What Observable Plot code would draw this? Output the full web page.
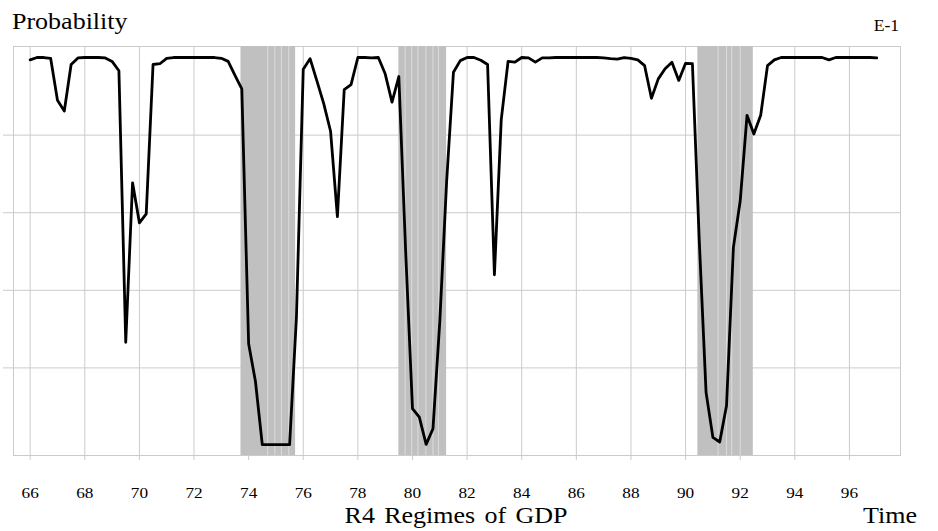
<!DOCTYPE html>
<html><head><meta charset="utf-8">
<script src="https://cdn.jsdelivr.net/npm/d3@7"></script>
<script src="https://cdn.jsdelivr.net/npm/@observablehq/plot@0.6"></script>
<style>
body{margin:0;background:#fff;}
#wrap{position:relative;width:938px;height:531px;overflow:hidden;font-family:"Liberation Serif","Times New Roman",serif;color:#000;}
#wrap svg{position:absolute;left:0;top:0;}
.lbl{position:absolute;white-space:nowrap;line-height:1;}
</style></head><body><div id="wrap"></div>
<script>
// Quarterly regime probability, starting 1966Q1 (x = 66.00), step = one quarter
const startYear = 66;
const probability = [
  0.994, 1.0, 1.0, 0.998, 0.89, 0.862, 0.982, 0.999,
  1.0, 1.0, 1.0, 0.999, 0.99, 0.966, 0.266, 0.677,
  0.574, 0.597, 0.982, 0.984, 0.998, 1.0, 1.0, 1.0,
  1.0, 1.0, 1.0, 1.0, 0.998, 0.99, 0.954, 0.919,
  0.262, 0.165, 0.002, 0.002, 0.002, 0.002, 0.002, 0.33,
  0.97, 0.997, 0.94, 0.881, 0.81, 0.59, 0.917, 0.93,
  1.0, 1.0, 0.999, 1.0, 0.958, 0.885, 0.951, 0.5,
  0.095, 0.073, 0.003, 0.043, 0.32, 0.68, 0.962, 0.992,
  1.0, 1.0, 0.993, 0.982, 0.44, 0.84, 0.99, 0.988,
  1.0, 0.999, 0.988, 0.999, 0.999, 1.0, 1.0, 1.0,
  1.0, 1.0, 1.0, 1.0, 0.999, 0.997, 0.996, 1.0,
  0.998, 0.994, 0.979, 0.895, 0.945, 0.971, 0.988, 0.941,
  0.985, 0.984, 0.53, 0.137, 0.021, 0.009, 0.103, 0.51,
  0.63, 0.851, 0.803, 0.851, 0.979, 0.994, 1.0, 1.0,
  1.0, 1.0, 1.0, 1.0, 1.0, 0.994, 1.0, 1.0,
  1.0, 1.0, 1.0, 1.0, 0.999
];
// Shaded (recession) periods
const recessionStart = [73.72, 79.5, 90.45];
const recessionEnd = [75.72, 81.25, 92.48];
// faint quarter seams visible inside the shading
const quarterSeams = [74.7, 74.96, 75.2, 75.47, 79.73, 79.97, 80.2, 80.49, 80.75, 80.95, 91.19, 91.5, 91.69, 92.0];
const xTicks = [66, 68, 70, 72, 74, 76, 78, 80, 82, 84, 86, 88, 90, 92, 94, 96];
const yTicks = [0.2, 0.4, 0.6, 0.8];
const yTitle = "Probability";
const chartCode = "E-1";
const xTitle = "R4 Regimes of GDP";
const timeTitle = "Time";

const rows = probability.map((p, i) => ({t: startYear + i / 4, p}));
const bands = recessionStart.map((s, i) => ({s, e: recessionEnd[i]}));
const gridColor = "#cbcbcb";

const chart = Plot.plot({
  width: 938, height: 531,
  marginLeft: 13, marginRight: 38, marginTop: 46, marginBottom: 76,
  x: {domain: [65.39, 97.87], label: null},
  y: {domain: [-0.0258, 1.0284], label: null},
  style: {fontFamily: "'Liberation Serif', 'Times New Roman', serif", background: "white", color: "black"},
  marks: [
    Plot.gridX(xTicks, {stroke: gridColor, strokeOpacity: 1, strokeWidth: 1}),
    Plot.gridY(yTicks, {stroke: gridColor, strokeOpacity: 1, strokeWidth: 1}),
    Plot.frame({stroke: gridColor, strokeWidth: 1}),
    Plot.rect(bands, {x1: "s", x2: "e", fill: "#c0c0c0"}),
    Plot.ruleX(quarterSeams, {stroke: "white", strokeOpacity: 0.45, strokeWidth: 1}),
    Plot.axisX(xTicks, {tickSize: 5, tickPadding: 27, fontSize: 15, stroke: gridColor, strokeOpacity: 1, fill: "black", tickFormat: d => String(d)}),
    Plot.axisY(yTicks, {tickSize: 10, tickFormat: () => "", stroke: gridColor, strokeOpacity: 1}),
    Plot.line(rows, {x: "t", y: "p", stroke: "black", strokeWidth: 2.8})
  ]
});

// widen tick labels horizontally like the reference
chart.querySelectorAll('g[aria-label="x-axis tick label"] text').forEach(t => {
  const tr = t.getAttribute("transform");
  if (tr) t.setAttribute("transform", tr + " scale(1.15,1)");
  else {
    const x = +t.getAttribute("x") || 0, y = +t.getAttribute("y") || 0;
    t.setAttribute("transform", `translate(${x},${y}) scale(1.15,1) translate(${-x},${-y})`);
  }
});

const wrap = document.getElementById("wrap");
wrap.appendChild(chart);

function addLabel(text, css) {
  const d = document.createElement("div");
  d.className = "lbl";
  d.textContent = text;
  Object.assign(d.style, css);
  wrap.appendChild(d);
}
addLabel(yTitle, {left: "12px", top: "10px", fontSize: "23px", transform: "scaleX(1.13)", transformOrigin: "left top"});
addLabel(chartCode, {right: "39px", top: "18px", fontSize: "16px", transform: "scaleX(1.1)", transformOrigin: "right top"});
addLabel(xTitle, {left: "456px", top: "504px", fontSize: "23px", wordSpacing: "2.5px", transform: "translateX(-50%) scaleX(1.13)", transformOrigin: "center top"});
addLabel(timeTitle, {left: "863px", top: "504px", fontSize: "23px", transform: "scaleX(1.13)", transformOrigin: "left top"});
</script>
</body></html>
